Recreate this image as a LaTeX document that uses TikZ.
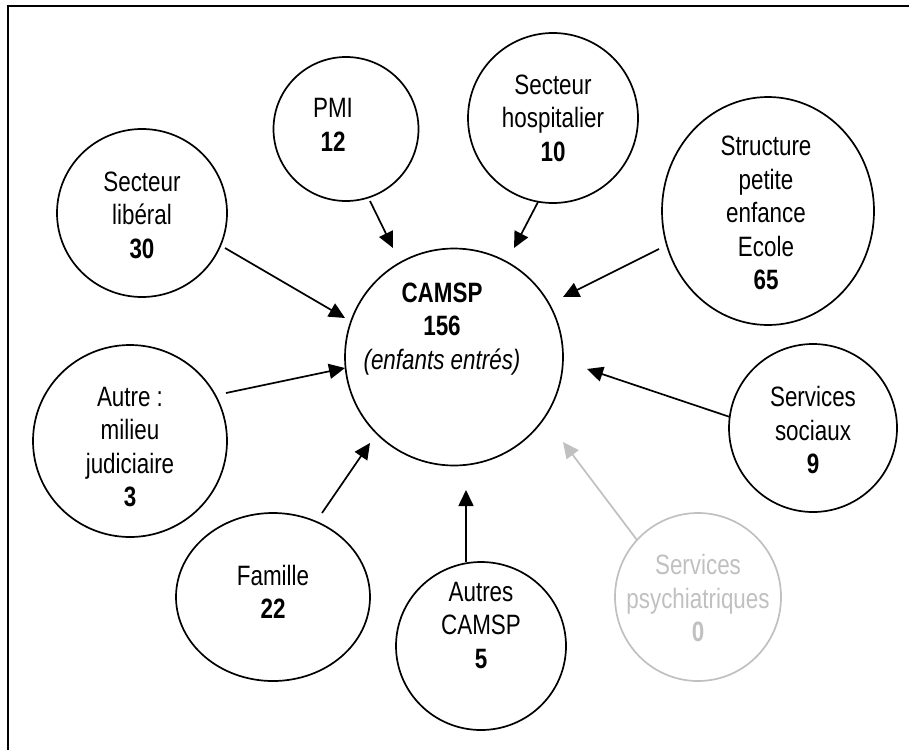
\documentclass[tikz,border=0pt]{standalone}
\usepackage{fontspec}
\setmainfont{Liberation Sans}[FakeStretch=0.8]
\usetikzlibrary{shapes.geometric,arrows.meta}
\definecolor{lightgr}{RGB}{192,192,192}
\tikzset{
  bubble/.style={draw, ellipse, line width=1.7pt, inner sep=0pt},
  lbl/.style={align=center, inner sep=0pt, font=\fontsize{28}{33.5}\selectfont},
  flow/.style={line width=1.7pt, -{Triangle[length=16pt,width=15pt]}},
  faded/.style={draw=lightgr, text=lightgr}
}
\begin{document}
\begin{tikzpicture}[x=1pt,y=-1pt]
\useasboundingbox (0,0) rectangle (909,749);
\draw[line width=1.7pt] (8,6) rectangle (940,780);

% bubbles
\node[bubble, minimum width=218pt, minimum height=217pt] (camsp) at (454,357) {};
\node[bubble, minimum width=170pt, minimum height=168pt] (lib) at (142,213) {};
\node[bubble, minimum width=145pt, minimum height=144pt] (pmi) at (346,129) {};
\node[bubble, minimum width=170pt, minimum height=170pt] (hosp) at (553,118) {};
\node[bubble, minimum width=212pt, minimum height=228pt] (struct) at (768,211) {};
\node[bubble, minimum width=194pt, minimum height=192pt] (autre) at (130,441) {};
\node[bubble, minimum width=168pt, minimum height=168pt] (soc) at (813,428) {};
\node[bubble, minimum width=194pt, minimum height=168pt] (fam) at (273,597) {};
\node[bubble, minimum width=170pt, minimum height=168pt] (autres) at (481,646) {};
\node[bubble, faded, minimum width=166pt, minimum height=168pt] (psy) at (698,597) {};

% labels
\node[lbl] (camspt) at (442,329) {\textbf{CAMSP}\\\textbf{156}\\\textit{(enfants entrés)}};
\node[lbl] (libt) at (142,215) {Secteur\\libéral\\\textbf{30}};
\node[lbl] (pmit) at (333,125) {PMI\\\textbf{12}};
\node[lbl] (hospt) at (553,118) {Secteur\\hospitalier\\\textbf{10}};
\node[lbl] (structt) at (766,213) {Structure\\petite\\enfance\\Ecole\\\textbf{65}};
\node[lbl] (autret) at (130,447) {Autre :\\milieu\\judiciaire\\\textbf{3}};
\node[lbl] (soct) at (813,430) {Services\\sociaux\\\textbf{9}};
\node[lbl] (famt) at (273,592) {Famille\\\textbf{22}};
\node[lbl] (autrest) at (481,625) {Autres\\CAMSP\\\textbf{5}};
\node[lbl, text=lightgr] (psyt) at (698,598) {Services\\psychiatriques\\\textbf{0}};

% arrow ends
\coordinate (libS) at (225,248);    \coordinate (libE) at (345,318);
\coordinate (pmiS) at (370,201);    \coordinate (pmiE) at (393,248);
\coordinate (hospS) at (538,202);   \coordinate (hospE) at (514,248);
\coordinate (structS) at (659,249); \coordinate (structE) at (563,297);
\coordinate (autreS) at (226,393);  \coordinate (autreE) at (345,368);
\coordinate (socS) at (730,417);    \coordinate (socE) at (587,369);
\coordinate (famS) at (322,513);    \coordinate (famE) at (370,443);
\coordinate (autresS) at (466,562); \coordinate (autresE) at (466,490);
\coordinate (psyS) at (637,540);    \coordinate (psyE) at (563,442);

\draw[flow] (libS) -- (libE);
\draw[flow] (pmiS) -- (pmiE);
\draw[flow] (hospS) -- (hospE);
\draw[flow] (structS) -- (structE);
\draw[flow] (autreS) -- (autreE);
\draw[flow] (socS) -- (socE);
\draw[flow] (famS) -- (famE);
\draw[flow] (autresS) -- (autresE);
\draw[flow, draw=lightgr, fill=lightgr] (psyS) -- (psyE);
\end{tikzpicture}
\end{document}
